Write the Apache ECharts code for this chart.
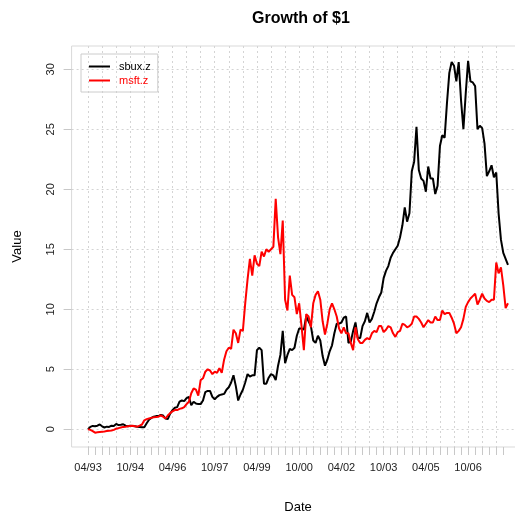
<!DOCTYPE html>
<html>
<head>
<meta charset="utf-8">
<title>Growth of $1</title>
<script src="https://cdn.jsdelivr.net/npm/echarts@6/dist/echarts.min.js"></script>
<style>
  html, body { margin: 0; padding: 0; background: #fff; }
  #chart { width: 515px; height: 514px; }
</style>
</head>
<body>
<div id="chart"></div>
<script>
// monthly values, first month 04/1993
var startYear = 1993
var startMonth = 4

var sbux = [
  0, 0.2, 0.28, 0.25, 0.3, 0.4, 0.25, 0.15, 0.22, 0.2,
  0.3, 0.28, 0.45, 0.35, 0.38, 0.42, 0.3, 0.25, 0.3, 0.28,
  0.25, 0.22, 0.2, 0.18, 0.17, 0.5, 0.8, 0.95, 1.05, 1.1,
  1.1, 1.2, 1.15, 0.9, 0.85, 1.3, 1.6, 1.8, 1.85, 2.3,
  2.4, 2.35, 2.6, 2.7, 2.0, 2.3, 2.15, 2.1, 2.1, 2.4,
  3.1, 3.2, 3.2, 2.7, 2.5, 2.7, 2.85, 2.9, 2.95, 3.3,
  3.5, 3.9, 4.5, 3.6, 2.4, 2.9, 3.3, 3.9, 4.6, 4.4,
  4.5, 4.5, 6.6, 6.8, 6.6, 3.8, 3.8, 4.3, 4.6, 4.5,
  4.1, 5.3, 6.2, 8.2, 5.5, 6.2, 6.7, 6.6, 6.8, 7.8,
  8.4, 8.4, 8.3, 9.4, 9.0, 8.6, 7.4, 7.2, 7.8, 7.4,
  6.1, 5.3, 5.8, 6.5, 7.0, 8.0, 8.8, 8.8, 8.9, 9.3,
  9.4, 7.2, 7.3, 8.2, 8.9, 7.6, 7.6, 8.6, 9.0, 9.7,
  8.9, 9.2, 9.8, 10.5, 11.0, 11.4, 12.6, 13.2, 13.6, 14.3,
  14.7, 15.0, 15.3, 16.0, 17.0, 18.5, 17.3, 18.0, 21.5, 22.3,
  25.2, 21.6, 20.9, 20.7, 19.8, 21.9, 20.9, 20.9, 19.6, 20.3,
  23.6, 24.5, 24.3, 27.2, 29.7, 30.6, 30.3, 29.0, 30.6, 27.4,
  25.0, 28.0, 30.7, 29.0, 28.9, 28.6, 25.0, 25.3, 25.1, 23.8,
  21.1, 21.5, 22.0, 21.0, 21.4, 18.0, 15.8, 14.7, 14.2, 13.7
]

var msft = [
  0, -0.05, -0.15, -0.28, -0.25, -0.22, -0.2, -0.18, -0.15, -0.12,
  -0.1, -0.05, 0.05, 0.1, 0.15, 0.2, 0.22, 0.25, 0.28, 0.3,
  0.25, 0.22, 0.3, 0.4, 0.75, 0.85, 0.9, 0.95, 1.0, 1.02,
  1.05, 1.15, 1.05, 0.9, 1.15, 1.35, 1.5, 1.6, 1.6, 1.7,
  1.75, 1.85, 2.1, 2.3, 3.0, 3.4, 3.3, 2.8, 4.1, 4.25,
  4.8, 5.0, 4.9, 4.6, 4.8, 4.7, 5.1, 4.7, 5.8, 6.5,
  6.8, 6.7, 8.3, 8.0, 7.2, 8.3, 8.2, 10.5, 12.5, 14.2,
  12.8, 14.5, 13.8, 13.6, 14.8, 14.4, 15.0, 14.8, 15.0, 15.2,
  19.2, 16.0, 14.6, 17.4, 10.8, 9.9, 12.8, 11.2, 11.0, 9.6,
  10.5, 8.6, 6.6, 9.6, 9.4, 8.5, 10.5, 11.2, 11.5, 10.8,
  9.0, 7.9, 8.8, 10.0, 10.5, 10.0, 9.4, 8.4, 8.0, 8.5,
  8.0, 8.0, 7.2, 6.6, 8.5, 7.5, 7.2, 7.2, 7.45, 7.6,
  7.5, 8.0, 8.2, 8.1, 8.6, 8.6, 8.1, 8.3, 8.6, 8.5,
  8.0, 7.7, 8.1, 8.2, 8.8, 8.7, 8.5, 8.6, 8.8, 9.4,
  9.4, 9.2, 8.9, 8.5, 8.8, 9.1, 8.9, 8.9, 9.4, 9.1,
  9.1, 9.9, 9.6, 9.7, 9.7, 9.3, 8.8, 8.0, 8.2, 8.5,
  9.2, 10.2, 10.6, 10.9, 11.1, 11.3, 10.4, 10.8, 11.3, 10.9,
  10.7, 10.6, 10.8, 10.8, 13.9, 13.0, 13.5, 12.0, 10.1, 10.5
]

var yTicks = [0, 5, 10, 15, 20, 25, 30]

// R pads the x range by 4% each side: 7 empty months
var PAD = 7
var n = sbux.length

var months = []
for (var i = 0; i < n; i++) {
  var mo = (startMonth - 1 + i) % 12 + 1
  var yr = startYear + Math.floor((startMonth - 1 + i) / 12)
  months.push((mo < 10 ? '0' : '') + mo + '/' + String(yr).slice(2))
}
var cats = []
for (var p = 0; p < PAD; p++) cats.push('pre' + p)
cats = cats.concat(months)
for (var q = 0; q < PAD; q++) cats.push('post' + q)

function padded(arr) {
  var out = []
  for (var k = 0; k < PAD; k++) out.push('-')
  out = out.concat(arr)
  for (var k2 = 0; k2 < PAD; k2++) out.push('-')
  return out
}

function every(step) {
  return function(index) {
    var m = index - PAD
    return m >= 0 && m < n && m % step === 0
  }
}

var font = 'Liberation Sans, Arial, Helvetica, sans-serif'
var chart = echarts.init(document.getElementById('chart'))

chart.setOption({
  animation: false,
  backgroundColor: '#fff',
  title: {
    text: 'Growth of $1',
    left: 296,
    top: 6,
    textAlign: 'center',
    textStyle: { fontSize: 16, fontWeight: 'bold', color: '#000', fontFamily: font }
  },
  legend: {
    orient: 'vertical',
    left: 81,
    top: 54,
    borderColor: '#cccccc',
    borderWidth: 1,
    padding: [7, 7, 6, 8],
    icon: 'rect',
    itemWidth: 21,
    itemHeight: 2,
    itemGap: 3,
    textStyle: { fontSize: 11, fontFamily: font, padding: [0, 0, 0, 4] },
    data: [
      { name: 'sbux.z', textStyle: { color: '#000' } },
      { name: 'msft.z', textStyle: { color: '#ff0000' } }
    ]
  },
  grid: {
    left: 71.6,
    top: 46,
    width: 452.8,
    height: 401,
    show: true,
    borderColor: '#d9d9d9',
    borderWidth: 1,
    containLabel: false,
    outerBoundsMode: 'none'
  },
  xAxis: {
    type: 'category',
    data: cats,
    boundaryGap: false,
    name: 'Date',
    nameLocation: 'middle',
    nameGap: 54,
    nameTextStyle: { fontSize: 13, color: '#000', fontFamily: font },
    axisLine: { show: false, onZero: false },
    axisTick: {
      show: true,
      interval: every(3),
      length: 8,
      lineStyle: { color: '#c8c8c8' }
    },
    axisLabel: {
      interval: every(18),
      margin: 15,
      fontSize: 11,
      color: '#222',
      fontFamily: font
    },
    splitLine: {
      show: true,
      interval: every(6),
      lineStyle: { color: '#d4d4d4', type: [2, 3] }
    }
  },
  yAxis: {
    type: 'value',
    min: -1.475,
    max: 31.94,
    name: 'Value',
    nameLocation: 'middle',
    nameGap: 48,
    nameTextStyle: { fontSize: 13, color: '#000', fontFamily: font },
    axisLine: { show: false },
    axisTick: {
      show: true,
      length: 8,
      customValues: yTicks,
      lineStyle: { color: '#c8c8c8' }
    },
    axisLabel: {
      customValues: yTicks,
      rotate: 90,
      margin: 15,
      fontSize: 11,
      color: '#222',
      fontFamily: font
    },
    splitLine: {
      show: true,
      lineStyle: { color: '#d4d4d4', type: [2, 3] }
    }
  },
  series: [
    {
      name: 'sbux.z',
      type: 'line',
      data: padded(sbux),
      symbol: 'none',
      lineStyle: { color: '#000', width: 2 },
      itemStyle: { color: '#000' }
    },
    {
      name: 'msft.z',
      type: 'line',
      data: padded(msft),
      symbol: 'none',
      lineStyle: { color: '#ff0000', width: 2 },
      itemStyle: { color: '#ff0000' }
    }
  ]
})
</script>
</body>
</html>
